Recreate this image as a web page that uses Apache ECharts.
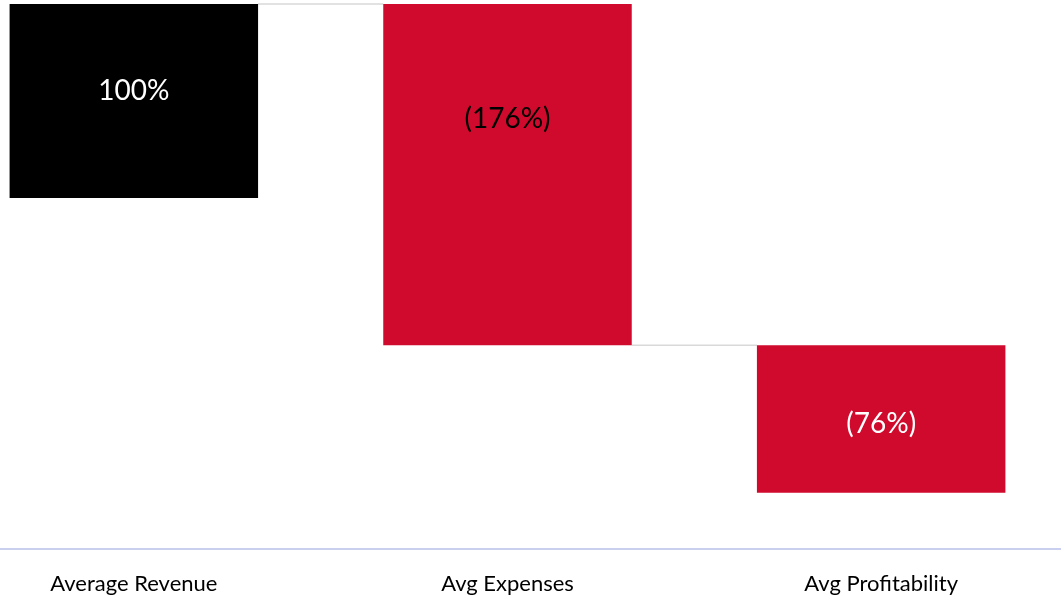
<!DOCTYPE html>
<html>
<head>
<meta charset="utf-8">
<script src="https://cdn.jsdelivr.net/npm/echarts@6/dist/echarts.min.js"></script>
<style>
  html, body { margin: 0; padding: 0; background: #ffffff; overflow: hidden; width: 1061px; height: 597px; }
  /* the plot runs slightly past both window edges */
  #chart { position: absolute; left: -53px; top: 0; width: 1121px; height: 597px; }
</style>
</head>
<body>
<div id="chart"></div>
<script>
// Waterfall: revenue, expenses and resulting profitability (% of revenue)
const categories = ['Average Revenue', 'Avg Expenses', 'Avg Profitability'];
const deltas = [100, -176, -76];
const valueLabels = ['100%', '(176%)', '(76%)'];

// Styling per bar
const barColors = ['#000000', '#cf0a2c', '#cf0a2c'];
const labelColors = ['#ffffff', '#000000', '#ffffff'];
const labelRelY = [0.45, 0.337, 0.53];

// Running totals give each step's start and end
const steps = [];
let running = 0;
deltas.forEach(function (d, i) {
  steps.push([i, running, running + d]);
  running += d;
});

const chart = echarts.init(document.getElementById('chart'));

chart.setOption({
  animation: false,
  backgroundColor: '#ffffff',
  grid: { left: 0, right: 0, top: 4, height: 545, containLabel: false },
  xAxis: {
    type: 'category',
    data: categories,
    axisLine: { show: true, onZero: false, lineStyle: { color: '#c9cfee', width: 2 } },
    axisTick: { show: false },
    axisLabel: {
      color: '#000000',
      fontFamily: 'Lato',
      fontSize: 22,
      margin: 24
    },
    splitLine: { show: false }
  },
  yAxis: {
    type: 'value',
    min: -181,
    max: 100,
    show: false,
    splitLine: { show: false }
  },
  series: [{
    type: 'custom',
    data: steps,
    encode: { x: 0, y: [1, 2] },
    renderItem: function (params, api) {
      const i = api.value(0);
      const start = api.value(1);
      const end = api.value(2);
      const top = api.coord([i, Math.max(start, end)]);
      const bottom = api.coord([i, Math.min(start, end)]);
      const w = api.size([1, 0])[0] * 0.665;
      const h = bottom[1] - top[1];
      const children = [];

      if (i < steps.length - 1) {
        const endPt = api.coord([i, end]);
        const nextX = api.coord([i + 1, end])[0];
        children.push({
          type: 'line',
          z2: 0,
          shape: { x1: endPt[0] + w / 2, y1: endPt[1], x2: nextX - w / 2, y2: endPt[1] },
          style: { stroke: '#d9d9d9', lineWidth: 1.5 }
        });
      }

      children.push({
        type: 'rect',
        z2: 1,
        shape: { x: top[0] - w / 2, y: top[1], width: w, height: h },
        style: { fill: barColors[i] }
      });

      children.push({
        type: 'text',
        z2: 2,
        x: top[0],
        y: top[1] + h * labelRelY[i],
        style: {
          text: valueLabels[i],
          fill: labelColors[i],
          font: '28px Lato',
          align: 'center',
          verticalAlign: 'middle'
        }
      });

      return { type: 'group', children: children };
    }
  }]
});
</script>
</body>
</html>
